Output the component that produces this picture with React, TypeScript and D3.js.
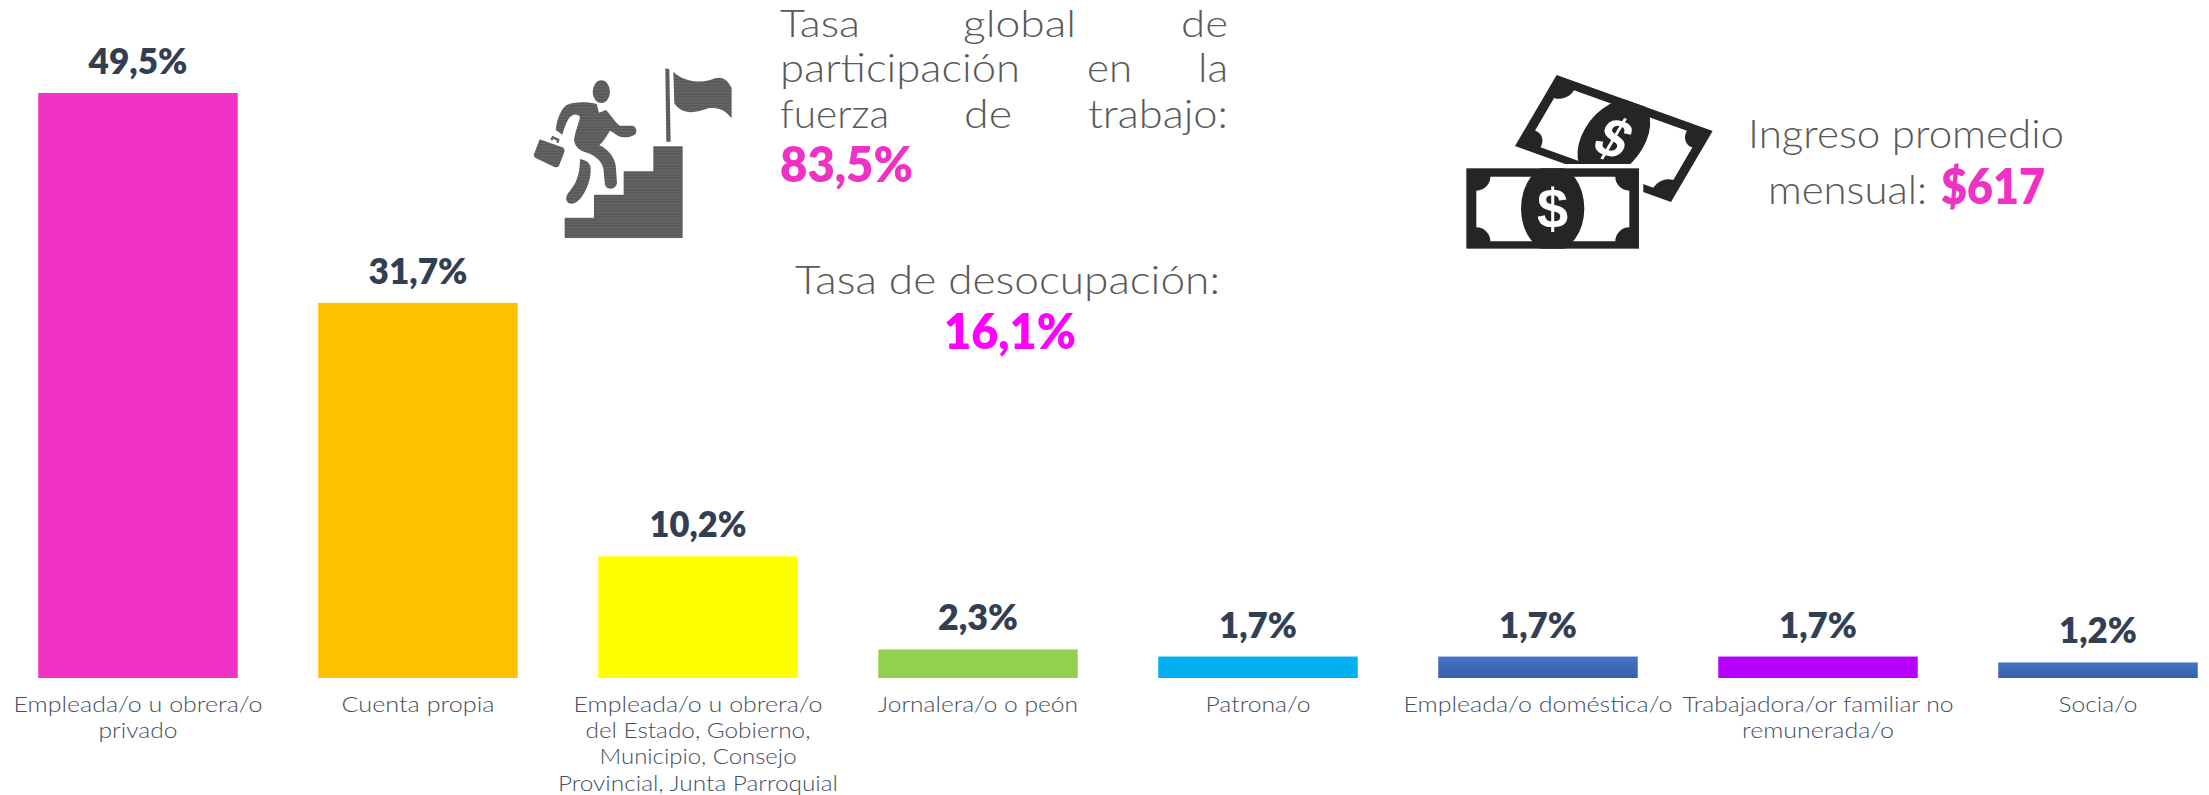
import React from "react";
import * as d3 from "d3";

const categories: string[][] = [
  ["Empleada/o u obrera/o", "privado"],
  ["Cuenta propia"],
  ["Empleada/o u obrera/o", "del Estado, Gobierno,", "Municipio, Consejo", "Provincial, Junta Parroquial"],
  ["Jornalera/o o peón"],
  ["Patrona/o"],
  ["Empleada/o doméstica/o"],
  ["Trabajadora/or familiar no", "remunerada/o"],
  ["Socia/o"],
];
const values = [49.5, 31.7, 10.2, 2.3, 1.7, 1.7, 1.7, 1.2];
const colors = ["#F032C4", "#FFC000", "#FFFF00", "#92D050", "#00B0F0", "url(#blueGrad)", "#B700FF", "url(#blueGrad)"];
const labelWidths = [[249, 79], [153], [249, 225, 197, 280], [200], [105], [269], [271, 152], [79]];
const valueWidths = [99, 99, 97, 80, 78, 78, 78, 78];

const W = 2209, H = 795;
const BASE = 678;
const x = d3.scaleBand<number>().domain(d3.range(8)).range([-2, 2238]).paddingInner(0.2875).paddingOuter(0.14375);
const y = d3.scaleLinear().domain([0, 49.5]).range([676.6, 93]);

const LIGHT = "Lato, 'Open Sans', sans-serif";

function T(p: { x: number; y: number; w: number; s: number; c: string; b?: boolean; t: string }) {
  return (
    <text x={p.x} y={p.y} textLength={p.w} lengthAdjust="spacingAndGlyphs" fontFamily={LIGHT}
      fontSize={p.s} fontWeight={p.b ? 800 : 300} fill={p.c}>{p.t}</text>
  );
}

function Bill({ dark }: { dark: string }) {
  return (
    <g>
      <rect x={0} y={0} width={518} height={241} fill={dark} />
      <path d="M72,25 H447 A42,42 0 0 0 489,67 V177 A42,42 0 0 0 447,219 H72 A42,42 0 0 0 30,177 V67 A42,42 0 0 0 72,25 Z" fill="#fff" />
      <ellipse cx={259} cy={120.5} rx={95} ry={130} fill={dark} clipPath="url(#billClip)" />
      <text x={259} y={178} textAnchor="middle" fontFamily="'Liberation Sans', sans-serif" fontWeight={700} fontSize={168} fill="#fff">$</text>
    </g>
  );
}

export default function App() {
  const GRAY = "#595959", PINK = "#F032C4", LBL = "#444E63", VAL = "#323F52", ICON = "url(#stripes)";
  const DARK = "#262425";
  return (
    <svg width={W} height={H} viewBox={`0 0 ${W} ${H}`} style={{ position: "absolute", left: 0, top: 0, display: "block", background: "#fff" }}>
      <defs>
        <linearGradient id="blueGrad" x1="0" y1="0" x2="0" y2="1">
          <stop offset="0" stopColor="#4574C6" />
          <stop offset="1" stopColor="#3560A8" />
        </linearGradient>
        <pattern id="stripes" width="9" height="9" patternUnits="userSpaceOnUse">
          <rect width="9" height="9" fill="#5B5B5B" />
          <rect y="6" width="9" height="2" fill="#6C6C6C" />
        </pattern>
        <clipPath id="billClip">
          <rect x={0} y={0} width={518} height={241} />
        </clipPath>
      </defs>

      {values.map((v, i) => {
        const bx = x(i)!, bw = x.bandwidth(), cx = bx + bw / 2, top = y(v);
        return (
          <g key={i}>
            <rect x={bx} y={top} width={bw} height={BASE - top} fill={colors[i]} />
            <T x={cx - valueWidths[i] / 2} y={top - 19} w={valueWidths[i]} s={36} c={VAL} b t={d3.format(".1f")(v).replace(".", ",") + "%"} />
            {categories[i].map((line, j) => (
              <T key={j} x={cx - labelWidths[i][j] / 2} y={712 + j * 26.2} w={labelWidths[i][j]} s={22} c={LBL} t={line} />
            ))}
          </g>
        );
      })}

      {/* justified paragraph */}
      <T x={780} y={37} w={80} s={37} c={GRAY} t="Tasa" />
      <T x={963} y={37} w={113} s={37} c={GRAY} t="global" />
      <T x={1181} y={37} w={47} s={37} c={GRAY} t="de" />
      <T x={780} y={82} w={240} s={39} c={GRAY} t="participación" />
      <T x={1087} y={82} w={45} s={39} c={GRAY} t="en" />
      <T x={1198} y={82} w={30} s={39} c={GRAY} t="la" />
      <T x={780} y={128} w={109} s={39} c={GRAY} t="fuerza" />
      <T x={964} y={128} w={48} s={39} c={GRAY} t="de" />
      <T x={1088} y={128} w={140} s={39} c={GRAY} t="trabajo:" />
      <T x={780} y={182} w={133} s={50} c={PINK} b t="83,5%" />
      <T x={795} y={294} w={425} s={39} c={GRAY} t="Tasa de desocupación:" />
      <T x={944} y={349} w={132} s={50} c="#FF00FF" b t="16,1%" />
      <T x={1748} y={148} w={316} s={39} c={GRAY} t="Ingreso promedio" />
      <T x={1768} y={204} w={159} s={39} c={GRAY} t="mensual:" />
      <T x={1941} y={204} w={104} s={50} c={PINK} b t="$617" />

      {/* climbing figure icon */}
      <g transform="translate(525,60) scale(0.3333)" fill={ICON}>
        <ellipse cx={229} cy={95} rx={26} ry={34} />
        <path d="M92,210 C96,180 105,150 125,135 C145,125 190,125 215,132 L222,158 L243,150 C258,165 272,190 285,197 L322,197 C335,200 338,215 330,224 C315,232 295,235 280,228 C270,222 262,215 255,212 C245,228 235,245 223,256 C245,265 265,285 272,315 L276,370 C272,390 248,392 240,375 L235,325 C228,300 210,288 190,280 C165,272 150,262 147,240 C150,215 162,190 165,170 C155,160 142,162 132,175 C122,190 118,205 112,224 Z" />
        <path d="M165,297 C180,300 195,305 197,325 C198,355 188,385 172,408 C160,425 145,435 132,430 C120,422 122,408 132,396 C150,375 165,350 165,297 Z" />
        <path d="M48,239 L112,262 C118,265 120,270 118,276 L103,315 C100,322 94,323 88,321 L32,294 C26,291 25,286 28,280 L42,243 C43,240 45,238 48,239 Z" />
        <path d="M76,238 L82,227 L104,238 L100,250 L94,247 L96,242 L85,236 L82,242 Z" />
        <path d="M119,473 H207 V404 H296 V334 H385 V259 H473 V534 H119 Z" />
        <path d="M421,25 L433,28 L437,245 L424,245 Z" />
        <path d="M445,35 C480,70 540,70 570,55 C590,48 610,60 620,85 L620,175 C600,150 580,140 550,145 C510,160 470,165 448,130 Z" />
      </g>

      {/* money icon */}
      <g transform="translate(1455,65) scale(0.3333)">
        <g transform={`matrix(${468 / 518},${168 / 518},${-125 / 241},${213 / 241},305,30)`}>
          <Bill dark={DARK} />
        </g>
        <rect x={21} y={297} width={544} height={267} fill="#fff" />
        <g transform="translate(34,310)">
          <Bill dark={DARK} />
        </g>
      </g>
    </svg>
  );
}
